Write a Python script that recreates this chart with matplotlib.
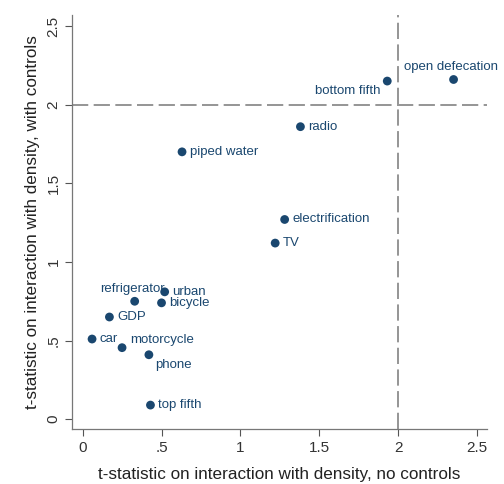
import matplotlib
matplotlib.use("Agg")
from matplotlib import pyplot as plt

plt.rcParams['font.family'] = ['Liberation Sans', 'DejaVu Sans']

# t-statistics
labels = ['open defecation', 'bottom fifth', 'radio', 'piped water',
          'electrification', 'TV', 'urban', 'refrigerator', 'bicycle',
          'GDP', 'car', 'motorcycle', 'phone', 'top fifth']
t_no_controls = [2.35, 1.93, 1.38, 0.63, 1.28, 1.22, 0.52, 0.33, 0.50,
                 0.17, 0.06, 0.25, 0.42, 0.43]
t_with_controls = [2.16, 2.15, 1.86, 1.70, 1.27, 1.12, 0.81, 0.75, 0.74,
                   0.65, 0.51, 0.455, 0.41, 0.09]
# label placement: offset in points and alignment
label_pos = {
    'open defecation': ((-1.5, 9), 'center', 'center'),
    'bottom fifth': ((-5, -7.5), 'right', 'center'),
    'refrigerator': ((-1.5, 9), 'center', 'center'),
    'motorcycle': ((5.5, 5.5), 'left', 'center'),
    'phone': ((4.5, -7.5), 'left', 'center'),
}

ticks = [0, 0.5, 1, 1.5, 2, 2.5]
tick_labels = ['0', '.5', '1', '1.5', '2', '2.5']

navy = '#1a476f'

fig = plt.figure(figsize=(5.04, 4.84), dpi=100)
ax = fig.add_axes([0.1435, 0.113, 0.8222, 0.856])

ax.axvline(2, color='#8c8c8c', lw=1.3, dashes=(9, 3), zorder=1)
ax.axhline(2, color='#8c8c8c', lw=1.3, dashes=(9, 3), zorder=1)

ax.scatter(t_no_controls, t_with_controls, s=40, color=navy, zorder=3,
           edgecolors='none')

for lab, x, y in zip(labels, t_no_controls, t_with_controls):
    off, ha, va = label_pos.get(lab, ((5.5, 0), 'left', 'center'))
    ax.annotate(lab, (x, y), xytext=off, textcoords='offset points',
                ha=ha, va=va, fontsize=9.5, color=navy)

ax.set_xlim(-0.065, 2.56)
ax.set_ylim(-0.064, 2.57)
ax.set_xticks(ticks)
ax.set_xticklabels(tick_labels)
ax.set_yticks(ticks)
ax.set_yticklabels(tick_labels, rotation=90, va='center')
ax.tick_params(colors='#555555', labelcolor='#333333', labelsize=11,
               length=5, width=0.8)

for side in ['top', 'right']:
    ax.spines[side].set_visible(False)
for side in ['left', 'bottom']:
    ax.spines[side].set_color('#777777')
    ax.spines[side].set_linewidth(0.9)

ax.set_xlabel('t-statistic on interaction with density, no controls',
              fontsize=12.3, color='#222222', labelpad=8.5)
ax.set_ylabel('t-statistic on interaction with density, with controls',
              fontsize=12.3, color='#222222', labelpad=5)

plt.savefig('out.png', dpi=100)
